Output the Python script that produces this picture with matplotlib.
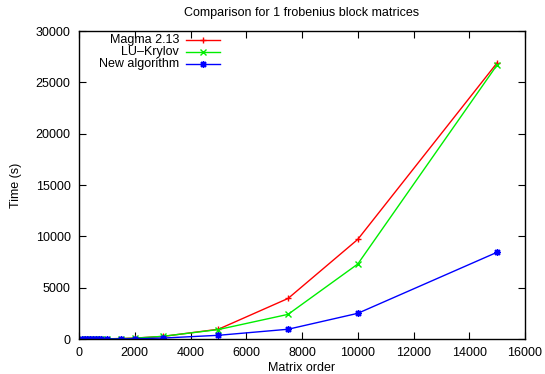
import matplotlib
matplotlib.use("Agg")
import matplotlib.pyplot as plt

plt.rcParams['font.family'] = ['Liberation Sans', 'DejaVu Sans']

sizes = [100, 200, 300, 400, 500, 600, 700, 800, 1000, 1500, 2000, 3000, 5000, 7500, 10000, 15000]
magma = [0, 1, 2, 3, 5, 8, 10, 14, 20, 45, 90, 250, 950, 3950, 9700, 26900]
lukrylov = [0, 1, 2, 3, 5, 7, 9, 12, 18, 40, 80, 260, 920, 2400, 7300, 26700]
newalg = [0, 0, 1, 1, 2, 3, 4, 5, 7, 15, 30, 90, 360, 950, 2500, 8450]

series_names = ["Magma 2.13", "LU\u2013Krylov", "New algorithm"]
series_vals = [magma, lukrylov, newalg]
colors = ["#ff0000", "#00ee00", "#0000ff"]
markers = ["+", "x", (8, 2, 0)]

fig = plt.figure(figsize=(5.45, 3.74), dpi=100)
ax = fig.add_axes([79/545, 35/374, (525-79)/545, (339-31)/374])

for name, vals, c, m in zip(series_names, series_vals, colors, markers):
    ax.plot(sizes, vals, color=c, lw=1, marker=m, ms=5, mew=1)

ax.set_xlim(0, 16000)
ax.set_ylim(0, 30000)
ax.set_xticks(range(0, 16001, 2000))
ax.set_yticks(range(0, 30001, 5000))
ax.tick_params(direction='in', top=True, right=True, length=5, width=0.8, labelsize=9, pad=6)
for s in ax.spines.values():
    s.set_linewidth(1)

ax.set_xlabel("Matrix order", fontsize=9, labelpad=2)
ax.set_ylabel("Time (s)", fontsize=9, labelpad=10)
ax.set_title("Comparison for 1 frobenius block matrices", fontsize=9, pad=11)

# gnuplot-style key: right-aligned text, sample line on the right
ys = [0.970, 0.931, 0.892]
for name, c, m, yk in zip(series_names, colors, markers, ys):
    ax.text((179-79)/446, yk, name, transform=ax.transAxes, ha='right', va='center', fontsize=9)
    ax.plot([(186-79)/446, (220-79)/446], [yk, yk], transform=ax.transAxes, color=c, lw=1, clip_on=False)
    ax.plot([(203-79)/446], [yk], transform=ax.transAxes, color=c, marker=m, ms=5, mew=1, clip_on=False)

fig.savefig("out.png", dpi=100)
